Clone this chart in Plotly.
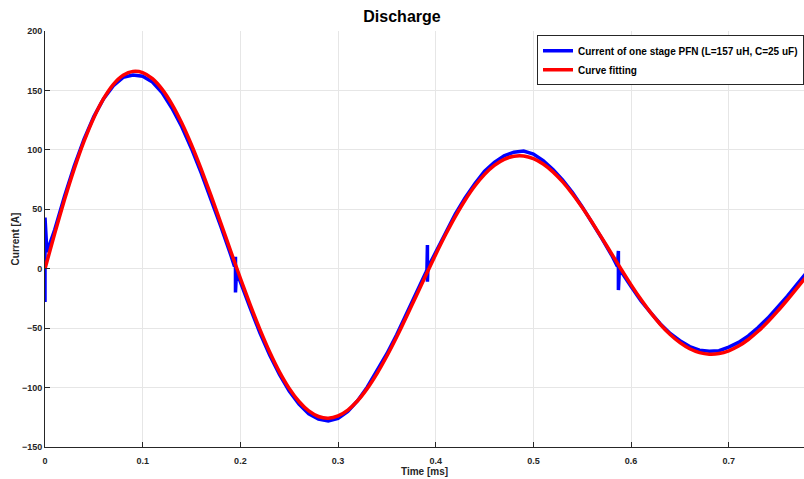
import plotly.graph_objects as go

# ---- data ----
fit_time_ms = [round(0.01 * i, 2) for i in range(79)]
fit_current_a = [
    0.0, 29.87, 58.14, 84.16, 107.30, 127.10, 143.06, 155.04, 162.72, 166.03,
    165.04, 159.91, 150.88, 138.27, 122.52, 104.07, 83.50, 61.45, 38.42, 15.06,
    -8.02, -30.26, -51.10, -70.09, -86.74, -100.70, -111.72, -119.66, -124.33, -125.71,
    -123.85, -118.91, -111.09, -100.68, -88.01, -73.45, -57.46, -40.44, -22.88, -5.23,
    12.05, 28.55, 43.87, 57.64, 69.56, 79.39, 86.93, 92.04, 94.70, 94.88,
    92.64, 88.12, 81.50, 72.99, 62.87, 51.44, 39.03, 25.97, 12.62, -0.67,
    -13.58, -25.77, -36.98, -46.92, -55.41, -62.24, -67.35, -70.57, -71.90, -71.39,
    -69.08, -65.09, -59.56, -52.67, -44.63, -35.69, -26.11, -16.12, -6.01,
]

meas_time_ms = [
    0.0, 0.0, 0.002, 0.01, 0.02, 0.03, 0.04, 0.05, 0.06, 0.07, 0.08, 0.09,
    0.10, 0.11, 0.12, 0.13, 0.14, 0.15, 0.16, 0.17, 0.18, 0.19,
    0.194, 0.195, 0.195, 0.196,
    0.20, 0.21, 0.22, 0.23, 0.24, 0.25, 0.26, 0.27, 0.28, 0.29,
    0.30, 0.31, 0.32, 0.33, 0.34, 0.35, 0.36, 0.37, 0.38, 0.39,
    0.391, 0.3915, 0.3915, 0.392,
    0.40, 0.41, 0.42, 0.43, 0.44, 0.45, 0.46, 0.47, 0.48, 0.49,
    0.50, 0.51, 0.52, 0.53, 0.54, 0.55, 0.56, 0.57, 0.58,
    0.586, 0.587, 0.587, 0.588,
    0.59, 0.60, 0.61, 0.62, 0.63, 0.64, 0.65, 0.66, 0.67, 0.68, 0.69,
    0.70, 0.71, 0.72, 0.73, 0.74, 0.75, 0.76, 0.77, 0.78,
]
meas_current_a = [
    -28, 43, 14, 33, 61, 86.5, 109, 128, 143, 154, 161, 163,
    162, 157, 148, 135, 119.5, 101, 80.5, 58.5, 35.5, 12,
    2, 10, -20, -3,
    -11, -33, -54, -72.5, -89, -103, -114, -122, -126.5, -128,
    -126, -120, -111, -99.5, -86, -71.5, -55.5, -38.5, -21, -3,
    -1, 20, -11, 1,
    14, 30.5, 46, 59.5, 71.5, 82, 89.5, 95, 98, 99,
    96.5, 91, 83.5, 74.5, 64, 52, 39, 25.5, 11.5,
    2, 15, -18, -1,
    -2.5, -15, -27, -37, -46.5, -54.5, -60.5, -65.5, -68.5, -69.5, -69,
    -66, -62, -56.5, -49.5, -41.5, -32.5, -23, -13, -3,
]

x_ticks = [0, 0.1, 0.2, 0.3, 0.4, 0.5, 0.6, 0.7]
x_tick_labels = ["0", "0.1", "0.2", "0.3", "0.4", "0.5", "0.6", "0.7"]
y_ticks = [-150, -100, -50, 0, 50, 100, 150, 200]

FONT = "Liberation Sans, Arial, Helvetica, sans-serif"
AX = "#262626"

fig = go.Figure()
fig.add_trace(go.Scatter(
    x=meas_time_ms, y=meas_current_a, mode="lines",
    name="Current of one stage PFN (L=157 uH, C=25 uF)",
    line=dict(color="#0000ff", width=3.5),
))
fig.add_trace(go.Scatter(
    x=fit_time_ms, y=fit_current_a, mode="lines",
    name="Curve fitting",
    line=dict(color="#ff0000", width=3.5, shape="spline", smoothing=0.6),
))

axis_common = dict(
    showgrid=True, gridcolor="#e6e6e6", gridwidth=1,
    showline=True, linecolor=AX, linewidth=1,
    ticks="inside", ticklen=5, tickcolor=AX,
    tickfont=dict(family=FONT, size=9, color=AX, weight="bold"),
    zeroline=False, automargin=False,
)

fig.update_layout(
    width=804, height=479,
    paper_bgcolor="white", plot_bgcolor="white",
    margin=dict(l=45, r=0, t=31, b=32),
    title=dict(text="Discharge", x=0.5, xanchor="center", y=0.965, yanchor="middle",
               font=dict(family=FONT, size=16, color="black", weight="bold")),
    xaxis=dict(range=[0, 0.777], tickvals=x_ticks, ticktext=x_tick_labels,
               ticklabelstandoff=5,
               title=dict(text="Time [ms]", standoff=0,
                          font=dict(family=FONT, size=10, color=AX, weight="bold")),
               **axis_common),
    yaxis=dict(range=[-150, 200], tickvals=y_ticks,
               title=dict(text="Current [A]", standoff=0,
                          font=dict(family=FONT, size=10, color=AX, weight="bold")),
               **axis_common),
    legend=dict(x=1.0, xanchor="right", y=0.99, yanchor="top",
                bgcolor="white", bordercolor=AX, borderwidth=1,
                font=dict(family=FONT, size=10, color="black", weight="bold"),
                itemwidth=30, tracegroupgap=0),
    showlegend=True,
)

fig.write_html("out.html", config={"displayModeBar": False},
               post_script="document.body.style.margin='0';document.body.style.overflow='hidden';")
